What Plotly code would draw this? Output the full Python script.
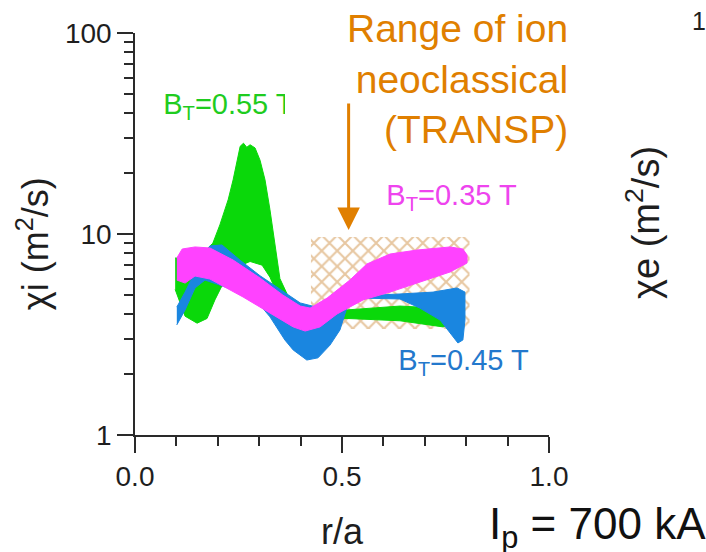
import plotly.graph_objects as go

# ---------------- data ----------------
# B_T = 0.55 T band (green)
green_up_r = [0.097, 0.133, 0.157, 0.188, 0.205, 0.225, 0.237, 0.246, 0.254, 0.262, 0.270, 0.278,
              0.290, 0.302, 0.314, 0.326, 0.336, 0.350, 0.374, 0.399, 0.447, 0.512, 0.640, 0.713,
              0.761, 0.775]
green_up = [7.6, 7.5, 7.8, 9.0, 11.1, 14.8, 18.6, 23.3, 27.3, 28.3, 27.0, 27.8,
            26.8, 23.3, 18.6, 13.2, 9.3, 6.0, 4.7, 4.4, 4.3, 4.19, 4.38, 4.3,
            3.85, 3.65]
green_lo_r = [0.097, 0.121, 0.150, 0.174, 0.193, 0.217, 0.242, 0.278, 0.307, 0.326, 0.350,
              0.374, 0.447, 0.512, 0.640, 0.713, 0.744, 0.775]
green_lo = [5.3, 3.9, 3.6, 3.8, 4.7, 5.9, 6.8, 7.3, 7.0, 6.1, 4.7,
            3.9, 3.7, 3.8, 3.7, 3.53, 3.45, 3.65]

# B_T = 0.45 T band (blue)
blue_up_r = [0.101, 0.121, 0.145, 0.181, 0.210, 0.237, 0.254, 0.302, 0.350, 0.399, 0.447,
             0.495, 0.543, 0.640, 0.720, 0.778, 0.797]
blue_up = [4.33, 5.14, 6.47, 8.72, 8.82, 7.9, 7.4, 6.2, 5.3, 4.54, 4.28,
           4.59, 4.92, 5.03, 5.14, 5.39, 5.14]
blue_lo_r = [0.101, 0.121, 0.145, 0.169, 0.205, 0.254, 0.302, 0.326, 0.362, 0.382, 0.415,
             0.442, 0.471, 0.495, 0.514, 0.543, 0.640, 0.688, 0.737, 0.761, 0.780, 0.792, 0.797]
blue_lo = [3.53, 4.19, 5.39, 5.90, 5.58, 5.14, 4.44, 3.87, 2.97, 2.65, 2.36,
           2.42, 2.80, 3.33, 4.44, 4.80, 4.75, 4.28, 3.73, 3.22, 2.87, 2.97, 3.73]

# B_T = 0.35 T band (magenta)
mag_up_r = [0.101, 0.114, 0.145, 0.181, 0.237, 0.302, 0.357, 0.399, 0.423, 0.464, 0.519,
            0.560, 0.616, 0.681, 0.761, 0.792, 0.802]
mag_up = [7.60, 8.42, 8.62, 8.52, 7.42, 6.04, 4.97, 4.38, 4.28, 4.80, 5.90,
          7.09, 7.95, 8.32, 8.62, 8.42, 7.86]
mag_lo_r = [0.101, 0.121, 0.145, 0.181, 0.261, 0.326, 0.382, 0.411, 0.447, 0.488, 0.551,
            0.616, 0.681, 0.761, 0.802]
mag_lo = [5.90, 5.70, 6.18, 5.97, 4.86, 4.05, 3.45, 3.29, 3.45, 4.00, 4.70,
          5.14, 5.70, 6.47, 7.17]

# Ion neoclassical range (TRANSP), hatched box
neo_r = [0.425, 0.808]
neo_chi = [3.37, 9.66]

x_major = [0.0, 0.5, 1.0]
x_major_text = ["0.0", "0.5", "1.0"]
x_minor = [0.1, 0.2, 0.3, 0.4, 0.6, 0.7, 0.8, 0.9]
y_major = [1, 10, 100]
y_major_text = ["1", "10", "100"]
y_minor = [2, 3, 4, 5, 6, 7, 8, 9, 20, 30, 40, 50, 60, 70, 80, 90]

# ---------------- figure ----------------
FONT = "Liberation Sans, Arial, Helvetica, sans-serif"
AX = "#2a2a2a"
TXT = "#1e1e1e"
ORANGE = "#e07f00"

def band(xu, yu, xl, yl):
    return xu + xl[::-1], yu + yl[::-1]

fig = go.Figure()

# hatched neoclassical box
fig.add_trace(go.Scatter(
    x=[neo_r[0], neo_r[1], neo_r[1], neo_r[0], neo_r[0]],
    y=[neo_chi[0], neo_chi[0], neo_chi[1], neo_chi[1], neo_chi[0]],
    mode="lines", line=dict(width=0, color="rgba(0,0,0,0)"),
    fill="toself", fillcolor="rgba(0,0,0,0)",
    fillpattern=dict(shape="x", fgcolor="#cf9044", bgcolor="white", size=11, solidity=0.35),
    hoverinfo="skip", showlegend=False))

for (xu, yu, xl, yl, col) in [
        (green_up_r, green_up, green_lo_r, green_lo, "#0ad80a"),
        (blue_up_r, blue_up, blue_lo_r, blue_lo, "#1a86e0"),
        (mag_up_r, mag_up, mag_lo_r, mag_lo, "#ff42ff")]:
    bx, by = band(xu, yu, xl, yl)
    fig.add_trace(go.Scatter(x=bx, y=by, mode="lines", fill="toself",
                             fillcolor=col, line=dict(color=col, width=1),
                             hoverinfo="skip", showlegend=False))

# band labels (text marks)
labels = [
    (0.068, 42.8, "B<sub>T</sub>=0.55 T", "#1fcc1f"),
    (0.607, 15.1, "B<sub>T</sub>=0.35 T", "#ee44ee"),
    (0.636, 2.28, "B<sub>T</sub>=0.45 T", "#2378cc"),
]
for lx, ly, lt, lc in labels:
    fig.add_trace(go.Scatter(x=[lx], y=[ly], mode="text", text=[lt],
                             textposition="middle right",
                             textfont=dict(family=FONT, size=29, color=lc),
                             hoverinfo="skip", showlegend=False))

axis_common = dict(showgrid=False, zeroline=False, showline=True, linecolor=AX,
                   linewidth=1.5, tickcolor=AX, tickwidth=1.5)

fig.update_layout(
    width=706, height=552,
    margin=dict(l=135, r=157, t=33, b=117),
    paper_bgcolor="white", plot_bgcolor="white",
    showlegend=False,
    xaxis=dict(range=[0, 1], ticks="outside", ticklen=16,
               tickmode="array", tickvals=x_major, ticktext=x_major_text,
               tickfont=dict(family=FONT, size=28, color=TXT),
               minor=dict(ticks="outside", ticklen=9, tickvals=x_minor,
                          tickcolor=AX, tickwidth=1.5),
               **axis_common),
    yaxis=dict(type="log", range=[0, 2], ticks="outside", ticklen=16,
               tickmode="array", tickvals=y_major, ticktext=y_major_text,
               tickfont=dict(family=FONT, size=28, color=TXT),
               minor=dict(ticks="outside", ticklen=9, tickvals=y_minor,
                          tickcolor=AX, tickwidth=1.5),
               **axis_common),
    xaxis2=dict(overlaying="x", side="top", anchor="y", range=[0, 1],
                ticks="inside", ticklen=7, tickmode="array", tickvals=x_minor,
                showticklabels=False, **axis_common),
    yaxis2=dict(overlaying="y", side="right", anchor="x", type="log", range=[0, 2],
                ticks="inside", ticklen=16, tickmode="array", tickvals=[10],
                showticklabels=False,
                minor=dict(ticks="inside", ticklen=9, tickvals=y_minor,
                           tickcolor=AX, tickwidth=1.5),
                **axis_common),
)

# white panel of the overlaid annotation text (hides part of frame)
fig.add_shape(type="rect", xref="paper", yref="paper", x0=0.3623, x1=1.07, y0=0.667, y1=1.2,
              fillcolor="white", line=dict(width=0), layer="above")

# annotations
fig.add_annotation(xref="paper", yref="paper", x=1.0507, y=0.885, xanchor="right", yanchor="middle",
                   align="right", showarrow=False,
                   text="Range of ion<br>neoclassical<br>(TRANSP)",
                   font=dict(family=FONT, size=39, color=ORANGE))
fig.add_annotation(x=0.516, y=1.02, xref="x", yref="y", text="", showarrow=True,
                   ax=0, ay=-128, arrowhead=2, arrowsize=1.5, arrowwidth=3, arrowcolor=ORANGE)
fig.add_annotation(xref="paper", yref="paper", x=-0.246, y=0.475, textangle=-90, showarrow=False,
                   xanchor="center", yanchor="middle",
                   text="χi (m<sup>2</sup>/s)", font=dict(family=FONT, size=36, color=TXT))
fig.add_annotation(xref="paper", yref="paper", x=1.227, y=0.53, textangle=-90, showarrow=False,
                   xanchor="center", yanchor="middle",
                   text="χe (m<sup>2</sup>/s)", font=dict(family=FONT, size=38, color=TXT))
fig.add_annotation(xref="paper", yref="paper", x=0.502, y=-0.24, showarrow=False,
                   xanchor="center", yanchor="middle",
                   text="r/a", font=dict(family=FONT, size=36, color=TXT))
fig.add_annotation(xref="paper", yref="paper", x=1.118, y=-0.228, showarrow=False,
                   xanchor="center", yanchor="middle",
                   text="I<sub>p</sub> = 700 kA", font=dict(family=FONT, size=44, color="#111111"))
fig.add_annotation(xref="paper", yref="paper", x=1.362, y=1.03, showarrow=False,
                   xanchor="center", yanchor="middle",
                   text="1", font=dict(family=FONT, size=25, color=TXT))

fig.write_html("out.html")
